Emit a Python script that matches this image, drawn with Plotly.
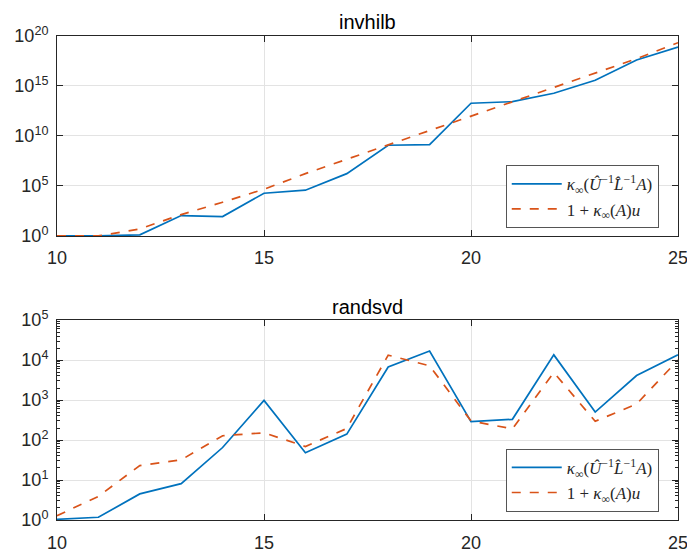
import plotly.graph_objects as go

n = list(range(10, 26))

# invhilb: kappa of computed factors vs 1 + kappa(A) u  (log10)
invhilb_kappa_log = [0.0, 0.0, 0.1, 2.03, 1.93, 4.27, 4.57, 6.23, 9.07, 9.13,
                     13.27, 13.43, 14.27, 15.57, 17.6, 18.9]
invhilb_bound_log = [0.0, 0.0, 0.7, 2.13, 3.37, 4.67, 6.23, 7.67, 9.07, 10.53,
                     12.0, 13.4, 14.9, 16.3, 17.73, 19.33]
invhilb_kappa = [10.0 ** v for v in invhilb_kappa_log]
invhilb_bound = [10.0 ** v for v in invhilb_bound_log]

# randsvd
randsvd_kappa = [1.04, 1.17, 4.5, 8.1, 65, 980, 48, 141, 6700, 16800,
                 288, 330, 13500, 500, 4100, 13500]
randsvd_bound = [1.28, 3.9, 23, 32, 128, 152, 69, 195, 13300, 7200,
                 300, 190, 4900, 295, 795, 10000]

x_ticks = [10, 15, 20, 25]
top_y_exp = [0, 5, 10, 15, 20]
bot_y_exp = [0, 1, 2, 3, 4, 5]

name_kappa = "<i>κ</i><sub>∞</sub>(<i>Û</i><sup>−1</sup><i>L̂</i><sup>−1</sup><i>A</i>)"
name_bound = "1 + <i>κ</i><sub>∞</sub>(<i>A</i>)<i>u</i>"
titles = ["invhilb", "randsvd"]

BLUE = "#0072BD"
ORANGE = "#D95319"
AX = "#262626"

fig = go.Figure()
fig.add_trace(go.Scatter(x=n, y=invhilb_kappa, mode="lines", name=name_kappa,
                         line=dict(color=BLUE, width=1.7), xaxis="x", yaxis="y", legend="legend"))
fig.add_trace(go.Scatter(x=n, y=invhilb_bound, mode="lines", name=name_bound,
                         line=dict(color=ORANGE, width=1.7, dash="dash"), xaxis="x", yaxis="y", legend="legend"))
fig.add_trace(go.Scatter(x=n, y=randsvd_kappa, mode="lines", name=name_kappa,
                         line=dict(color=BLUE, width=1.7), xaxis="x2", yaxis="y2", legend="legend2"))
fig.add_trace(go.Scatter(x=n, y=randsvd_bound, mode="lines", name=name_bound,
                         line=dict(color=ORANGE, width=1.7, dash="dash"), xaxis="x2", yaxis="y2", legend="legend2"))

tickfont = dict(family="Liberation Sans, Arial, sans-serif", size=18, color=AX)

def xaxis(anchor):
    return dict(range=[10, 25], tickvals=x_ticks, ticktext=[str(v) for v in x_ticks],
                ticks="inside", ticklen=6, tickcolor=AX, mirror="allticks",
                showline=True, linecolor=AX, linewidth=1, showgrid=True,
                gridcolor="#E3E3E3", gridwidth=1, zeroline=False, anchor=anchor,
                tickfont=tickfont, ticklabelstandoff=6, ticklabeloverflow="allow",
                automargin=False)

def yaxis(anchor, domain, exps, minor):
    d = dict(type="log", range=[exps[0], exps[-1]], domain=domain,
             tickvals=[10.0 ** e for e in exps],
             ticktext=["10<sup>%d</sup>" % e for e in exps],
             ticks="inside", ticklen=6, tickcolor=AX, mirror="allticks",
             showline=True, linecolor=AX, linewidth=1, showgrid=True,
             gridcolor="#E3E3E3", gridwidth=1, zeroline=False, anchor=anchor,
             tickfont=tickfont, ticklabelstandoff=4, ticklabeloverflow="allow",
             automargin=False)
    if minor:
        d["minor"] = dict(ticks="inside", ticklen=3, tickcolor=AX, showgrid=False,
                          tickvals=[m * 10.0 ** e for e in exps[:-1] for m in range(2, 10)])
    return d

legend_common = dict(xanchor="right", yanchor="top", bgcolor="white",
                     bordercolor="#555555", borderwidth=1,
                     font=dict(family="Liberation Serif, DejaVu Serif, serif", size=17, color=AX),
                     tracegroupgap=0, itemwidth=50)

titlefont = dict(family="Liberation Sans, Arial, sans-serif", size=20, color="black")

fig.update_layout(
    width=687, height=552,
    margin=dict(l=57, r=9, t=36, b=32),
    paper_bgcolor="white", plot_bgcolor="white",
    xaxis=xaxis("y"),
    yaxis=yaxis("x", [0.587, 1.0], top_y_exp, False),
    xaxis2=xaxis("y2"),
    yaxis2=yaxis("x2", [0.0, 0.413], bot_y_exp, True),
    legend=dict(x=0.969, y=0.733, **legend_common),
    legend2=dict(x=0.969, y=0.147, **legend_common),
    annotations=[
        dict(text=titles[0], xref="paper", yref="paper", x=0.5, y=1.028,
             xanchor="center", yanchor="middle", showarrow=False, font=titlefont),
        dict(text=titles[1], xref="paper", yref="paper", x=0.5, y=0.441,
             xanchor="center", yanchor="middle", showarrow=False, font=titlefont),
    ],
)

# remove the page's default body margin so the figure fills the window exactly
fig.write_html("out.html", config={"displayModeBar": False},
               post_script="document.body.style.margin='0px';")
